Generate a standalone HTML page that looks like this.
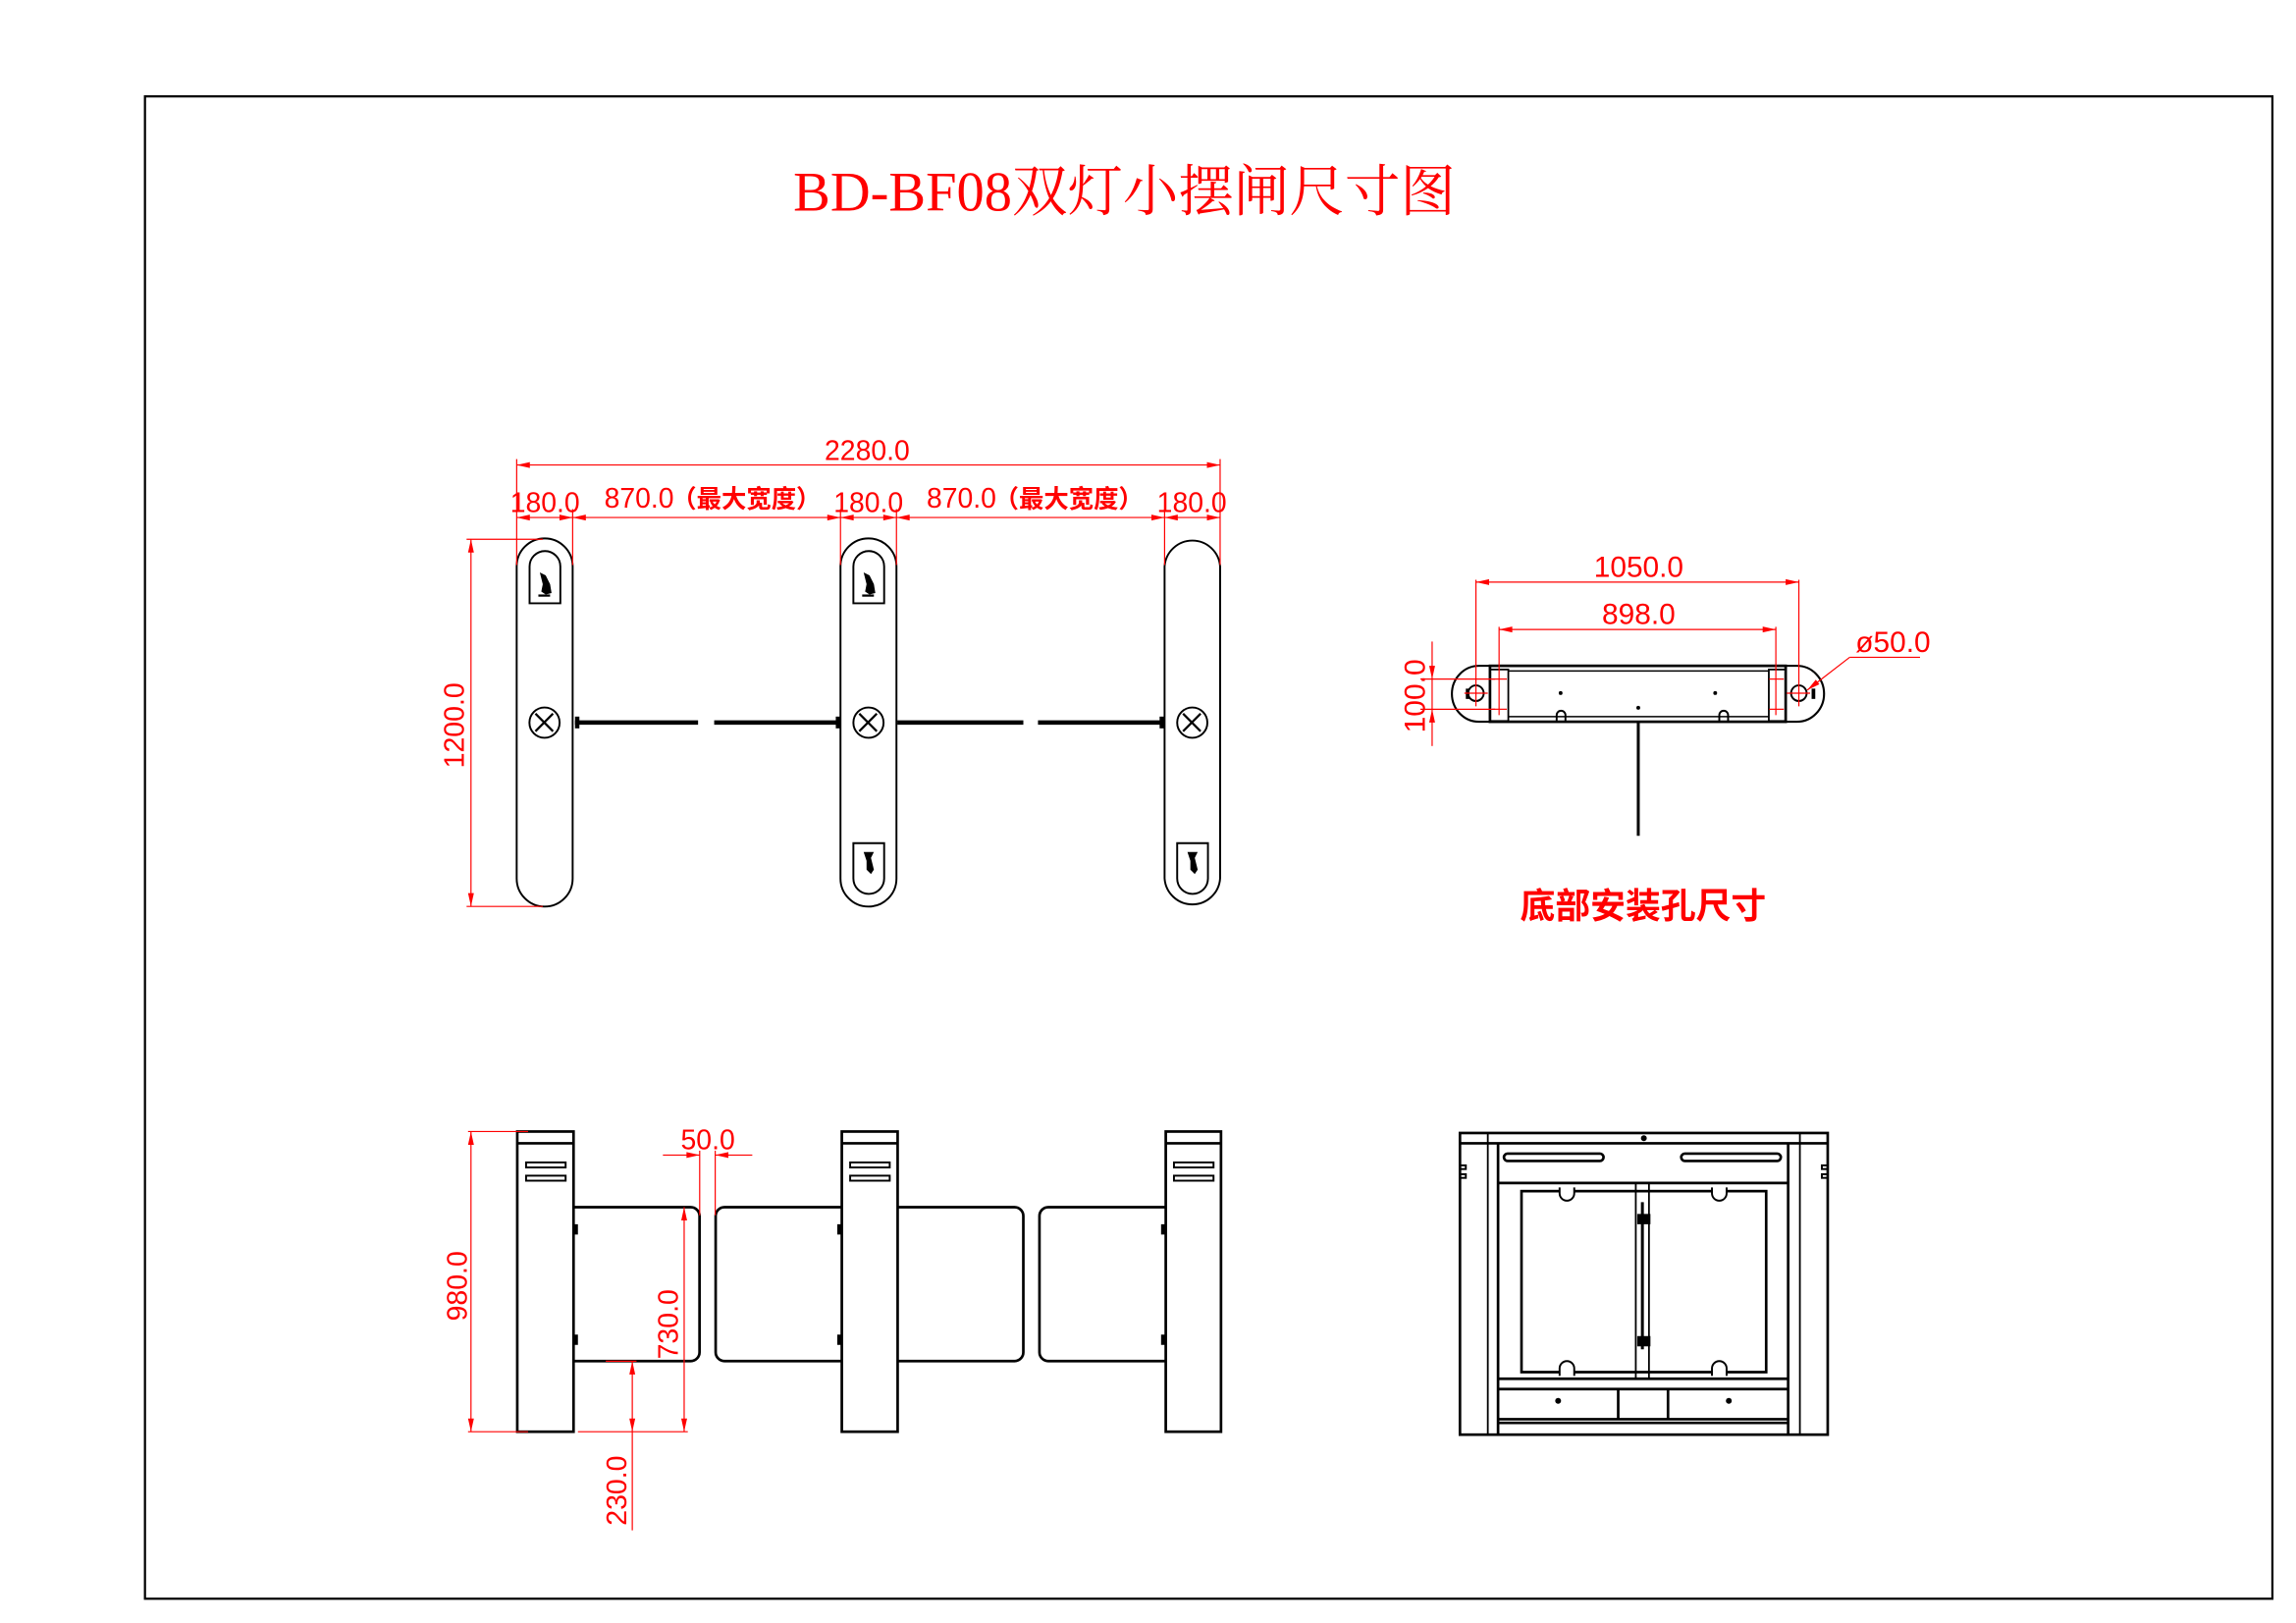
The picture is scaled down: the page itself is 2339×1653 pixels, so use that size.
<!DOCTYPE html>
<html><head><meta charset="utf-8"><style>
html,body{margin:0;padding:0;background:#fff;}
svg{display:block;}
.d{font-family:"Liberation Sans Narrow","Liberation Sans",sans-serif;fill:#f00;font-size:19px;}
.r{stroke:#f00;stroke-width:0.8;fill:none;}
.k{stroke:#000;stroke-width:1.3;fill:none;}
.kb{stroke:#000;stroke-width:1.8;fill:none;}
</style></head><body>
<svg width="2339" height="1653" viewBox="0 0 1560 1103" preserveAspectRatio="none" xmlns="http://www.w3.org/2000/svg">
<defs>
<g id="ar"><polygon points="0,0 -9,-2 -9,2" fill="#f00"/></g>
</defs>
<g transform="translate(98.5,0) scale(0.9955,1) translate(-98.5,0)">
<!-- frame -->
<rect x="98.5" y="65.5" width="1452" height="1021" fill="none" stroke="#000" stroke-width="1.5"/>
<!-- title -->
<text x="541" y="143" textLength="452" lengthAdjust="spacingAndGlyphs" style="font-family:'Liberation Serif','Noto Serif CJK SC',serif;font-size:38px;fill:#f00;">BD-BF08双灯小摆闸尺寸图</text>

<!-- ===== TOP VIEW ===== -->
<g class="k">
<path d="M352.2,385 A19,19 0 0 1 390.4,385 L390.4,597 A19,19 0 0 1 352.2,597 Z"/>
<path d="M573.2,385 A19,19 0 0 1 611.4,385 L611.4,597 A19,19 0 0 1 573.2,597 Z"/>
<path d="M794.4,385 A19,19 0 0 1 832.3,385 L832.3,597 A19,19 0 0 1 794.4,597 Z"/>
<path d="M361,410 L361,385 A10.5,10.5 0 0 1 382,385 L382,410 Z"/>
<path d="M582,410 L582,385 A10.5,10.5 0 0 1 603,385 L603,410 Z"/>
<path d="M582,573 L603,573 L603,597 A10.5,10.5 0 0 1 582,597 Z"/>
<path d="M803,573 L824,573 L824,597 A10.5,10.5 0 0 1 803,597 Z"/>
<circle cx="371.2" cy="491.1" r="10.3"/>
<circle cx="592.3" cy="491.1" r="10.3"/>
<circle cx="813.3" cy="491.1" r="10.3"/>
</g>
<g fill="#000">
<path d="M368,389 l4,2 l3,6 l1,6 l-4,1 l-3,-2 l1,-5 z"/><rect x="367" y="404" width="8" height="1.5"/>
<path d="M589,389 l4,2 l3,6 l1,6 l-4,1 l-3,-2 l1,-5 z"/><rect x="588" y="404" width="8" height="1.5"/>
<path d="M589,579 l7,0 l-2,4 l2,8 l-2,3 l-3,-3 l0,-6 z"/>
<path d="M810,579 l7,0 l-2,4 l2,8 l-2,3 l-3,-3 l0,-6 z"/>
</g>
<g stroke="#000" stroke-width="1.5" fill="none">
<path d="M365,485 l12,12 M377,485 l-12,12"/>
<path d="M586,485 l12,12 M598,485 l-12,12"/>
<path d="M807,485 l12,12 M819,485 l-12,12"/>
</g>
<g stroke="#000" stroke-width="3">
<line x1="392" y1="491" x2="476" y2="491"/><line x1="487" y1="491" x2="572" y2="491"/>
<line x1="612" y1="491" x2="698" y2="491"/><line x1="708" y1="491" x2="792" y2="491"/>
</g>
<g fill="#000"><rect x="392" y="487" width="3" height="8"/><rect x="570" y="487" width="3" height="8"/><rect x="791" y="487" width="3" height="8"/></g>
<g class="r">
<line x1="352.2" y1="316" x2="832.3" y2="316"/>
<line x1="352.2" y1="351.7" x2="832.3" y2="351.7"/>
<line x1="352.2" y1="312" x2="352.2" y2="384"/><line x1="832.3" y1="312" x2="832.3" y2="384"/>
<line x1="390.4" y1="346" x2="390.4" y2="384"/><line x1="573.2" y1="346" x2="573.2" y2="384"/>
<line x1="611.4" y1="346" x2="611.4" y2="384"/><line x1="794.4" y1="346" x2="794.4" y2="384"/>
<line x1="318" y1="366.5" x2="370" y2="366.5"/><line x1="318" y1="616" x2="370" y2="616"/>
<line x1="321" y1="366.5" x2="321" y2="616"/>
</g>
<use href="#ar" transform="translate(352.2,316) rotate(180)"/><use href="#ar" transform="translate(832.3,316)"/>
<use href="#ar" transform="translate(352.2,351.7) rotate(180)"/><use href="#ar" transform="translate(390.4,351.7)"/>
<use href="#ar" transform="translate(390.4,351.7) rotate(180)"/><use href="#ar" transform="translate(573.2,351.7)"/>
<use href="#ar" transform="translate(573.2,351.7) rotate(180)"/><use href="#ar" transform="translate(611.4,351.7)"/>
<use href="#ar" transform="translate(611.4,351.7) rotate(180)"/><use href="#ar" transform="translate(794.4,351.7)"/>
<use href="#ar" transform="translate(794.4,351.7) rotate(180)"/><use href="#ar" transform="translate(832.3,351.7)"/>
<use href="#ar" transform="translate(321,366.5) rotate(-90)"/><use href="#ar" transform="translate(321,616) rotate(90)"/>
<text class="d" x="591.4" y="312.5" text-anchor="middle">2280.0</text>
<text class="d" x="371.5" y="348" text-anchor="middle">180.0</text>
<text class="d" x="592.3" y="348" text-anchor="middle">180.0</text>
<text class="d" x="813" y="348" text-anchor="middle">180.0</text>
<text class="d" x="412" y="345">870.0</text>
<text x="458" y="345" style="font-family:'Liberation Sans','Noto Sans CJK SC',sans-serif;font-weight:bold;font-size:17px;fill:#f00;">（最大宽度）</text>
<text class="d" x="632" y="345">870.0</text>
<text x="678" y="345" style="font-family:'Liberation Sans','Noto Sans CJK SC',sans-serif;font-weight:bold;font-size:17px;fill:#f00;">（最大宽度）</text>
<text class="d" transform="translate(316,493) rotate(-90)" text-anchor="middle">1200.0</text>

<!-- ===== BOTTOM MOUNT VIEW ===== -->
<g class="kb">
<path d="M1016.5,452.5 L1009,452.5 A18.5,19 0 0 0 1009,490.5 L1016.5,490.5 Z" stroke-width="1.4"/>
<path d="M1218.3,452.5 L1226,452.5 A18.5,19 0 0 1 1226,490.5 L1218.3,490.5 Z" stroke-width="1.4"/>
<rect x="1016.5" y="452.5" width="201.8" height="38"/>
<line x1="1029" y1="456" x2="1207" y2="456" stroke-width="1"/>
<rect x="1016.5" y="455" width="12.5" height="35" stroke-width="1.2"/>
<rect x="1206.8" y="455" width="11.5" height="35" stroke-width="1.2"/>
<line x1="1029" y1="487" x2="1207" y2="487" stroke-width="1"/>
<line x1="1117.7" y1="491" x2="1117.7" y2="568" stroke-width="2"/>
</g>
<g fill="#000">
<rect x="1000" y="468" width="2.5" height="7"/><rect x="1236" y="468" width="2.5" height="7"/>
<circle cx="1064.7" cy="471" r="1.3"/><circle cx="1170.2" cy="471" r="1.3"/><circle cx="1117.7" cy="481" r="1.3"/>
</g>
<g class="k"><path d="M1062,490 v-4 a3,3 0 0 1 6,0 v4"/><path d="M1173,490 v-4 a3,3 0 0 1 6,0 v4"/></g>
<g class="k"><circle cx="1006.9" cy="471.1" r="5.3"/><circle cx="1227.3" cy="471.1" r="5.3"/></g>
<g class="r" stroke-width="1">
<line x1="1006.9" y1="394" x2="1006.9" y2="480"/><line x1="1227.3" y1="394" x2="1227.3" y2="480"/>
<line x1="999" y1="471.1" x2="1015" y2="471.1"/><line x1="1219" y1="471.1" x2="1235" y2="471.1"/>
<line x1="1006.9" y1="395.6" x2="1227.3" y2="395.6"/>
<line x1="1022.7" y1="426" x2="1022.7" y2="486"/><line x1="1211.6" y1="426" x2="1211.6" y2="486"/>
<line x1="1022.7" y1="427.8" x2="1211.6" y2="427.8"/>
<line x1="1018" y1="461.5" x2="1028" y2="461.5"/><line x1="1018" y1="482" x2="1028" y2="482"/>
<line x1="1207" y1="461.5" x2="1217" y2="461.5"/><line x1="1207" y1="482" x2="1217" y2="482"/>
<line x1="969" y1="461.5" x2="1020" y2="461.5"/><line x1="969" y1="482" x2="1020" y2="482"/>
<line x1="977" y1="436" x2="977" y2="507"/>
<line x1="1262" y1="446.7" x2="1310" y2="446.7"/><line x1="1262" y1="446.7" x2="1233" y2="469"/>
</g>
<use href="#ar" transform="translate(1006.9,395.6) rotate(180)"/><use href="#ar" transform="translate(1227.3,395.6)"/>
<use href="#ar" transform="translate(1022.7,427.8) rotate(180)"/><use href="#ar" transform="translate(1211.6,427.8)"/>
<use href="#ar" transform="translate(977,461.5) rotate(90)"/><use href="#ar" transform="translate(977,482) rotate(-90)"/>
<use href="#ar" transform="translate(1233,469) rotate(142)"/>
<text class="d" x="1118" y="392" text-anchor="middle" style="font-size:20px">1050.0</text>
<text class="d" x="1118" y="424" text-anchor="middle" style="font-size:20px">898.0</text>
<text class="d" x="1266" y="443" style="font-size:20px">ø50.0</text>
<text class="d" transform="translate(972,473) rotate(-90)" text-anchor="middle" style="font-size:20px">100.0</text>
<text x="1121" y="624" text-anchor="middle" style="font-family:'Liberation Sans','Noto Sans CJK SC',sans-serif;font-weight:bold;font-size:24px;fill:#f00;">底部安装孔尺寸</text>

<!-- ===== FRONT ELEVATION ===== -->
<g class="kb">
<rect x="352.6" y="769" width="38.4" height="204"/><line x1="352.6" y1="777" x2="391" y2="777"/>
<rect x="574.1" y="769" width="38.1" height="204"/><line x1="574.1" y1="777" x2="612.2" y2="777"/>
<rect x="795.2" y="769" width="37.7" height="204"/><line x1="795.2" y1="777" x2="832.9" y2="777"/>
<path d="M391,820.4 H471 a6,6 0 0 1 6,6 V919 a6,6 0 0 1 -6,6 H391"/>
<path d="M574.1,820.4 H494 a6,6 0 0 0 -6,6 V919 a6,6 0 0 0 6,6 H574.1"/>
<path d="M612.2,820.4 H692 a6,6 0 0 1 6,6 V919 a6,6 0 0 1 -6,6 H612.2"/>
<path d="M795.2,820.4 H715 a6,6 0 0 0 -6,6 V919 a6,6 0 0 0 6,6 H795.2"/>
</g>
<g class="k">
<rect x="358.6" y="790" width="27" height="3.4"/><rect x="358.6" y="799" width="27" height="3.4"/>
<rect x="579.8" y="790" width="27" height="3.4"/><rect x="579.8" y="799" width="27" height="3.4"/>
<rect x="800.8" y="790" width="27" height="3.4"/><rect x="800.8" y="799" width="27" height="3.4"/>
</g>
<g fill="#000">
<rect x="391" y="832" width="3" height="7"/><rect x="391" y="907" width="3" height="7"/>
<rect x="571" y="832" width="3" height="7"/><rect x="571" y="907" width="3" height="7"/>
<rect x="792" y="832" width="3" height="7"/><rect x="792" y="907" width="3" height="7"/>
</g>
<g class="r" stroke-width="1">
<line x1="319" y1="769" x2="360" y2="769"/><line x1="319" y1="973" x2="360" y2="973"/>
<line x1="321" y1="769" x2="321" y2="973"/>
<line x1="477.1" y1="782" x2="477.1" y2="826"/><line x1="487.7" y1="782" x2="487.7" y2="826"/>
<line x1="452" y1="785" x2="477.1" y2="785"/><line x1="487.7" y1="785" x2="513" y2="785"/>
<line x1="466.5" y1="820.4" x2="466.5" y2="973"/>
<line x1="394" y1="973" x2="469" y2="973"/>
<line x1="431.1" y1="925.1" x2="431.1" y2="1040"/>
<line x1="413" y1="925.1" x2="434" y2="925.1"/>
</g>
<use href="#ar" transform="translate(321,769) rotate(-90)"/><use href="#ar" transform="translate(321,973) rotate(90)"/>
<use href="#ar" transform="translate(477.1,785)"/><use href="#ar" transform="translate(487.7,785) rotate(180)"/>
<use href="#ar" transform="translate(466.5,820.4) rotate(-90)"/><use href="#ar" transform="translate(466.5,973) rotate(90)"/>
<use href="#ar" transform="translate(431.1,925.1) rotate(-90)"/><use href="#ar" transform="translate(431.1,973) rotate(90)"/>
<text class="d" x="482.7" y="781" text-anchor="middle">50.0</text>
<text class="d" transform="translate(318,874) rotate(-90)" text-anchor="middle">980.0</text>
<text class="d" transform="translate(462,900) rotate(-90)" text-anchor="middle">730.0</text>
<text class="d" transform="translate(427,1013) rotate(-90)" text-anchor="middle">230.0</text>

<!-- ===== SIDE VIEW ===== -->
<g transform="translate(0,-3)">
<g class="kb">
<rect x="996" y="773" width="251" height="205"/>
<line x1="996" y1="780" x2="1247" y2="780"/>
<line x1="1015" y1="773" x2="1015" y2="978" stroke-width="1.2"/>
<line x1="1022" y1="780" x2="1022" y2="978"/>
<line x1="1220" y1="780" x2="1220" y2="978"/>
<line x1="1228" y1="773" x2="1228" y2="978" stroke-width="1.2"/>
<line x1="1022" y1="807" x2="1220" y2="807"/>
<rect x="1026" y="787" width="68" height="5" rx="2.5"/>
<rect x="1147" y="787" width="68" height="5" rx="2.5"/>
<rect x="1038" y="812.5" width="167" height="123"/>
<rect x="1116" y="807" width="9" height="133" stroke-width="1.2"/>
<line x1="1022" y1="940" x2="1220" y2="940"/>
<line x1="1022" y1="947" x2="1220" y2="947"/>
<line x1="1022" y1="967.5" x2="1220" y2="967.5"/>
<line x1="1022" y1="970" x2="1220" y2="970"/>
<line x1="1104" y1="947" x2="1104" y2="968"/>
<line x1="1138" y1="947" x2="1138" y2="968"/>
</g>
<g fill="#000">
<circle cx="1063" cy="955" r="2"/><circle cx="1179.5" cy="955" r="2"/><circle cx="1121.5" cy="776.5" r="2"/>
<rect x="1117" y="828" width="9" height="7"/><rect x="1117" y="911" width="9" height="7"/>
<rect x="1119.5" y="820" width="2" height="100"/>
</g>
<g class="k" fill="#fff">
<path d="M1064,810 v4 a5,5 0 0 0 10,0 v-4" fill="#fff"/>
<path d="M1168,810 v4 a5,5 0 0 0 10,0 v-4" fill="#fff"/>
<path d="M1064,938 v-5 a5,5 0 0 1 10,0 v5" fill="#fff"/>
<path d="M1168,938 v-5 a5,5 0 0 1 10,0 v5" fill="#fff"/>
<rect x="996" y="795" width="4" height="2.5"/><rect x="996" y="801" width="4" height="2.5"/>
<rect x="1243" y="795" width="4" height="2.5"/><rect x="1243" y="801" width="4" height="2.5"/>
</g>
</g>
</g>
</svg>
</body></html>
